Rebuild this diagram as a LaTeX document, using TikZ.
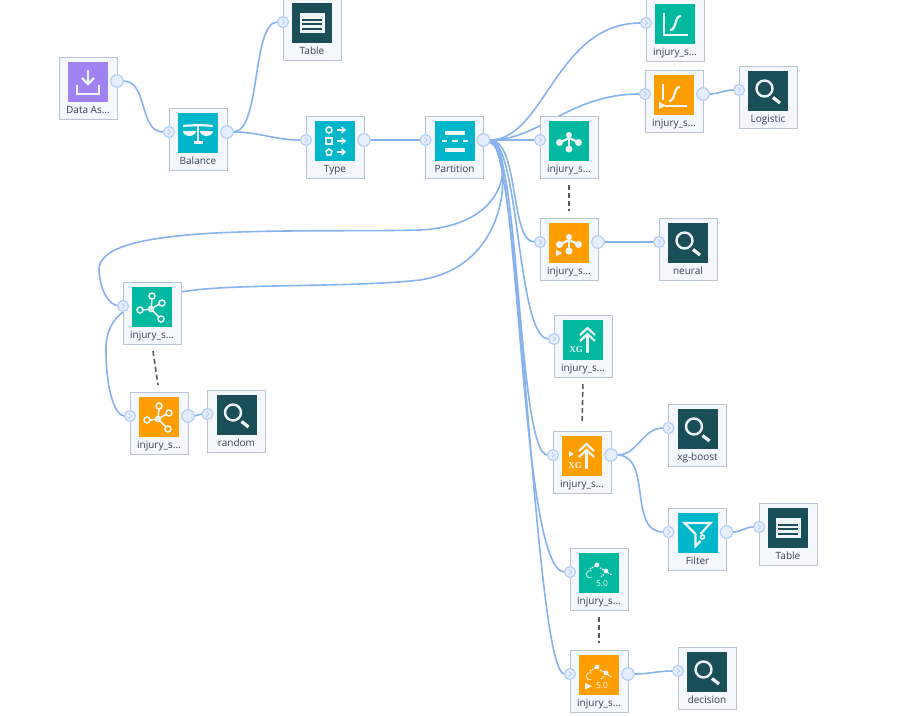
\documentclass[tikz,border=0pt]{standalone}
\usepackage{fontspec}
\setmainfont{Open Sans}
\newfontfamily\iconserif{Liberation Serif}
\usetikzlibrary{calc,backgrounds}
\definecolor{boxfill}{HTML}{F4F7FC}
\definecolor{boxline}{HTML}{BBC5D0}
\definecolor{portfill}{HTML}{E4EEFC}
\definecolor{portline}{HTML}{B5CFF4}
\definecolor{flowline}{HTML}{86B2EE}
\definecolor{labelcol}{HTML}{364254}
\definecolor{dashcol}{HTML}{4E5C68}
\definecolor{purpleicon}{HTML}{A082F3}
\definecolor{cyanicon}{HTML}{00B6CB}
\definecolor{darkicon}{HTML}{1A4E59}
\definecolor{greenicon}{HTML}{00B9A0}
\definecolor{orangeicon}{HTML}{FF9E00}
\definecolor{iconfg}{HTML}{EFF5F6}
\tikzset{
  nodebox/.style={draw=boxline,fill=boxfill,line width=1pt,minimum width=58pt,minimum height=62pt,inner sep=0pt,outer sep=0pt,anchor=north west},
  iconbox/.style={minimum size=40pt,inner sep=0pt,outer sep=0pt},
  nodelabel/.style={text=labelcol,font=\fontsize{10}{11}\selectfont,inner sep=0pt,anchor=base},
  inport/.style={circle,draw=portline,fill=portfill,line width=1.2pt,minimum size=11pt,inner sep=0pt,outer sep=0pt,
    path picture={\draw [portline,line width=1pt] ($(path picture bounding box.center)+(-1,-2.5)$) --++ (2.5,2.5) --++ (-2.5,2.5);}},
  outport/.style={circle,draw=portline,fill=portfill,line width=1.2pt,minimum size=12.5pt,inner sep=0pt,outer sep=0pt},
  flow/.style={draw=flowline,line width=1.6pt,out=0,in=180},
  twin/.style={draw=dashcol,line width=1.6pt,dash pattern=on 5pt off 3pt,shorten >=7pt,shorten <=7pt},
  fg/.style={draw=iconfg,line width=2.2pt},
  icondownload/.pic={
    \draw [fg] (0,-12) -- (0,2);
    \draw [fg] (-6,-4) -- (0,2) -- (6,-4);
    \draw [fg] (-11,3) -- (-11,12) -- (11,12) -- (11,3);
  },
  iconbalance/.pic={
    \draw [fg] (-15,-7) .. controls (-5,-8) and (5,-8) .. (15,-7);
    \draw [fg] (0,-8) -- (0,9);
    \draw [fg] (-4.5,9.5) -- (4.5,9.5);
    \fill [iconfg] (-15,-2) arc [start angle=180,end angle=0,x radius=6.5,y radius=5] -- cycle;
    \fill [iconfg] (2,-2) arc [start angle=180,end angle=0,x radius=6.5,y radius=5] -- cycle;
  },
  icontable/.pic={
    \fill [iconfg] (-12.5,-10) rectangle (12.5,10);
    \fill [darkicon] (-10,-4.3) rectangle (10,-2);
    \fill [darkicon] (-10,0) rectangle (10,2.3);
    \fill [darkicon] (-10,4.6) rectangle (10,7);
  },
  icontype/.pic={
    \foreach \rowy in {-11,0,11} {
      \draw [fg,line width=1.6pt] (2,\rowy) -- (9.5,\rowy);
      \draw [fg,line width=1.6pt] (6.5,\rowy-3) -- (10,\rowy) -- (6.5,\rowy+3);
    }
    \draw [fg,line width=1.6pt] (-6,-11) circle [radius=3];
    \draw [fg,line width=1.6pt] (-9,-3) rectangle (-3,3);
    \draw [fg,line width=1.6pt] (-6,8) -- (-3,10.2) -- (-4.2,14) -- (-7.8,14) -- (-9,10.2) -- cycle;
  },
  iconpartition/.pic={
    \fill [iconfg] (-10,-10) rectangle (10,-6);
    \fill [iconfg] (-10,7) rectangle (10,11);
    \fill [iconfg] (-13,-1) rectangle (-8,1);
    \fill [iconfg] (-3,-1) rectangle (3,1);
    \fill [iconfg] (8,-1) rectangle (13,1);
  },
  iconsearch/.pic={
    \draw [fg,line width=2.4pt] (-3.5,-2.5) circle [radius=8];
    \draw [fg,line width=3.2pt] (5,6.5) -- (12,12);
  },
  iconfilter/.pic={
    \draw [fg] (3,1) -- (13,-10) -- (-13,-10) -- (-2,1) -- (-2,13) -- (3,8);
    \draw [fg,line width=1.6pt] (5,4) circle [radius=2];
  },
  iconlr/.pic={
    \draw [fg] (-11,-11) -- (-11,11) -- (13,11);
    \draw [fg] (-5,6) .. controls (2,6) and (-1,-8) .. (6,-8);
  },
  iconlrrun/.pic={
    \draw [fg] (-11,-11) -- (-11,5);
    \draw [fg] (-9,11) -- (13,11);
    \draw [fg] (-5,6) .. controls (2,6) and (-1,-8) .. (6,-8);
    \fill [iconfg] (-15,7) -- (-15,14) -- (-8,10.5) -- cycle;
  },
  icontree/.pic={
    \draw [fg] (0,-6) -- (0,8);
    \draw [fg] (-9,1.5) -- (0,-3) -- (10,1.5);
    \fill [iconfg] (0,-6) circle [radius=3];
    \fill [iconfg] (-9.5,1.5) circle [radius=3.5];
    \fill [iconfg] (9.5,1.5) circle [radius=3.5];
    \fill [iconfg] (0,8) circle [radius=3.5];
  },
  icontreerun/.pic={
    \pic {icontree};
    \fill [iconfg] (-13,7) -- (-13,13) -- (-6.5,10) -- cycle;
  },
  iconforest/.pic={
    \draw [fg,line width=1.5pt] (-1,2) -- (0,-8) (-1,2) -- (-9,3) (-1,2) -- (7.5,-3) (-1,2) -- (7,10);
    \draw [fg,line width=1.5pt] (-1,2) circle [radius=2.5];
    \draw [fg,line width=1.5pt] (0,-11) circle [radius=3];
    \draw [fg,line width=1.5pt] (-12,3) circle [radius=3];
    \draw [fg,line width=1.5pt] (10,-4) circle [radius=3];
    \draw [fg,line width=1.5pt] (9,12) circle [radius=3];
  },
  iconxg/.pic={
    \draw [fg] (-3,-5) -- (4.5,-12) -- (12,-5);
    \draw [fg] (-3,1) -- (4.5,-6) -- (12,1);
    \draw [fg] (4.5,-6) -- (4.5,13);
    \node (xg) at (-7,9.5) [text=iconfg,inner sep=0pt,font=\iconserif\bfseries\fontsize{9}{9}\selectfont] {XG};
  },
  iconxgrun/.pic={
    \pic {iconxg};
    \fill [iconfg] (-13,-5) -- (-13,1) -- (-8,-2) -- cycle;
  },
  iconcfive/.pic={
    \fill [iconfg] (-2,-8) circle [radius=2.4];
    \fill [iconfg] (7,-2) circle [radius=2.4];
    \draw [iconfg,line width=1.4pt,densely dotted] (-9,-4) -- (-4,-7);
    \draw [iconfg,line width=1.4pt,densely dotted] (1,-5) -- (5,-3);
    \draw [iconfg,line width=1.4pt,densely dotted] (9,0) -- (13,2);
    \draw [iconfg,line width=1.4pt,densely dotted] (2,4) -- (5,1);
    \node (cletter) at (-10,2) [text=iconfg,inner sep=0pt,font=\fontsize{10.5}{11}\selectfont] {C};
    \node (cfive) at (3,10) [text=iconfg,inner sep=0pt,font=\fontsize{8.5}{9}\selectfont] {5.0};
  },
  iconcfiverun/.pic={
    \pic {iconcfive};
    \fill [iconfg] (-14,8) -- (-14,14.5) -- (-7,11) -- cycle;
  },
}
\newcommand{\flownode}[6]{
  \node [nodebox] (#1) at (#2,#3) {};
  \node [iconbox,fill=#4] (#1icon) at ($(#1.north)+(0,25)$) {};
  \pic (#1pic) at (#1icon) {#5};
  \node [nodelabel] (#1label) at ($(#1.north)+(0,56)$) {#6};
}
\newcommand{\inportat}[1]{\node [inport] (#1in) at ($(#1.north west)+(0,24)$) {};}
\newcommand{\outportat}[1]{\node [outport] (#1out) at ($(#1.north east)+(0,24)$) {};}
\begin{document}
\begin{tikzpicture}[x=1pt,y=-1pt]
\useasboundingbox (0,0) rectangle (915,715);
\flownode{data}{59}{57}{purpleicon}{icondownload}{Data As...}
\flownode{balance}{169}{108}{cyanicon}{iconbalance}{Balance}
\flownode{tablea}{283}{-2}{darkicon}{icontable}{Table}
\flownode{type}{306}{116}{cyanicon}{icontype}{Type}
\flownode{partition}{425.5}{116}{cyanicon}{iconpartition}{Partition}
\flownode{lrg}{646}{-1}{greenicon}{iconlr}{injury\_s...}
\flownode{lro}{645}{70}{orangeicon}{iconlrrun}{injury\_s...}
\flownode{logistic}{739}{66}{darkicon}{iconsearch}{Logistic}
\flownode{treeg}{540}{116}{greenicon}{icontree}{injury\_s...}
\flownode{treeo}{540}{218}{orangeicon}{icontreerun}{injury\_s...}
\flownode{neural}{659}{218}{darkicon}{iconsearch}{neural}
\flownode{forestg}{123}{282}{greenicon}{iconforest}{injury\_s...}
\flownode{foresto}{130}{392}{orangeicon}{iconforest}{injury\_s...}
\flownode{random}{207.5}{390}{darkicon}{iconsearch}{random}
\flownode{xgg}{554}{315}{greenicon}{iconxg}{injury\_s...}
\flownode{xgo}{553}{431}{orangeicon}{iconxgrun}{injury\_s...}
\flownode{xgboost}{668.5}{404}{darkicon}{iconsearch}{xg-boost}
\flownode{filter}{668.5}{508}{cyanicon}{iconfilter}{Filter}
\flownode{tableb}{759}{503}{darkicon}{icontable}{Table}
\flownode{cfiveg}{570}{548}{greenicon}{iconcfive}{injury\_s...}
\flownode{cfiveo}{570}{650}{orangeicon}{iconcfiverun}{injury\_s...}
\flownode{decision}{678}{647}{darkicon}{iconsearch}{decision}
\foreach \nodename in {balance,tablea,type,partition,lrg,lro,logistic,treeg,treeo,neural,forestg,foresto,random,xgg,xgo,xgboost,filter,tableb,cfiveg,cfiveo,decision} {
  \inportat{\nodename}
}
\foreach \nodename in {data,balance,type,partition,lro,treeo,foresto,xgo,filter,cfiveo} {
  \outportat{\nodename}
}
\begin{scope}[on background layer]
\draw [flow] (dataout) to (balancein);
\draw [flow,out distance=28pt,in distance=26pt] (balanceout) to (tableain);
\draw [flow] (balanceout) to (typein);
\draw [flow] (typeout) to (partitionin);
\draw [flow,out distance=55pt,in distance=85pt] (partitionout) to (lrgin);
\draw [flow,out distance=50pt,in distance=70pt] (partitionout) to (lroin);
\draw [flow] (partitionout) to (treegin);
\draw [flow,out distance=30pt,in distance=25pt] (partitionout) to (treeoin);
\draw [flow,out distance=30pt,in distance=32pt] (partitionout) to (xggin);
\draw [flow,out distance=30pt,in distance=30pt] (partitionout) to (xgoin);
\draw [flow,out distance=30pt,in distance=45pt] (partitionout) to (cfivegin);
\draw [flow,out distance=30pt,in distance=30pt] (partitionout) to (cfiveoin);
\draw [flow] (partitionout) .. controls (512,150) and (516,225) .. (420,230) .. controls (300,233) and (97,222) .. (99,270) .. controls (100,292) and (110,305) .. (forestgin);
\draw [flow] (partitionout) .. controls (512,150) and (516,265) .. (420,280) .. controls (350,288) and (230,283) .. (181,292) .. controls (150,298) and (105,305) .. (106,350) .. controls (106,390) and (115,416) .. (forestoin);
\draw [flow] (lroout) to (logisticin);
\draw [flow] (treeoout) to (neuralin);
\draw [flow] (forestoout) to (randomin);
\draw [flow] (xgoout) to (xgboostin);
\draw [flow] (xgoout) to (filterin);
\draw [flow] (filterout) to (tablebin);
\draw [flow] (cfiveoout) to (decisionin);
\end{scope}
\draw [twin,shorten >=5pt,shorten <=4pt] (lrg.south) -- (lro.north);
\draw [twin] (treeg.south) -- (treeo.north);
\draw [twin] (forestg.south) -- (foresto.north);
\draw [twin] (xgg.south) -- (xgo.north);
\draw [twin] (cfiveg.south) -- (cfiveo.north);
\end{tikzpicture}
\end{document}
